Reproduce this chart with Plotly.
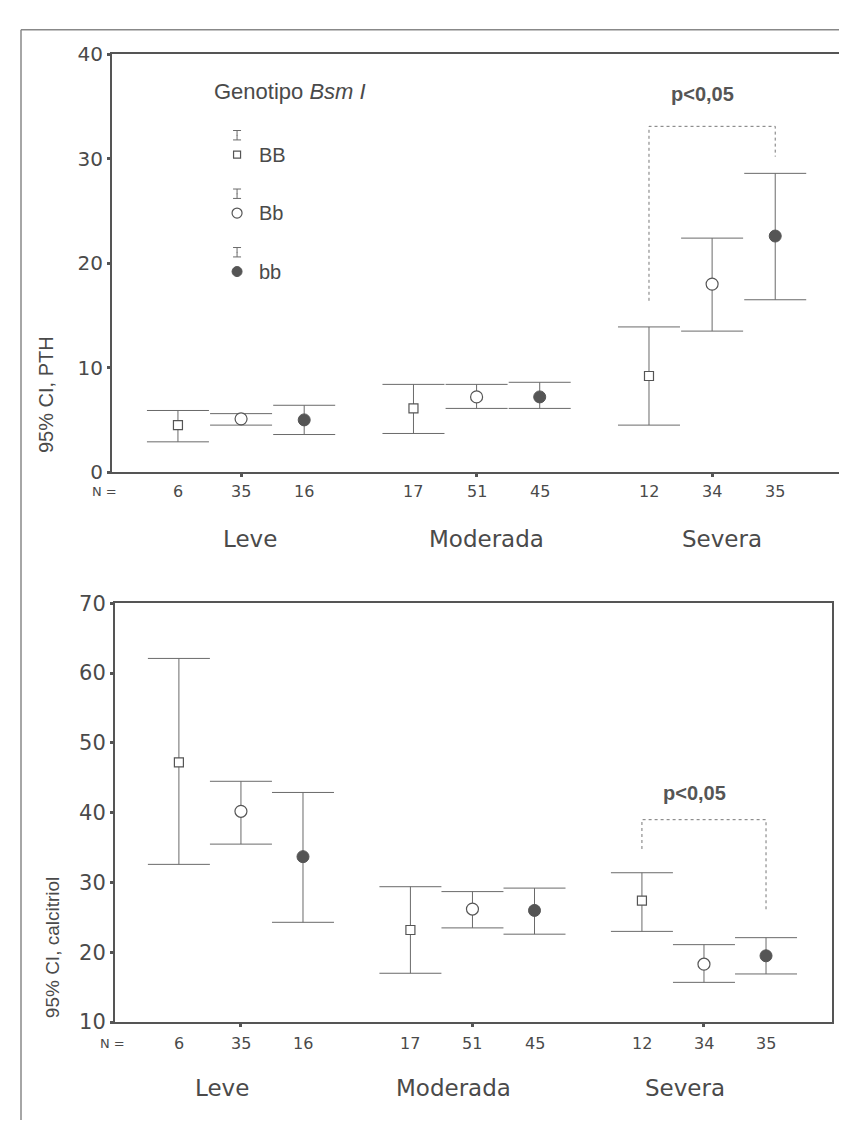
import plotly.graph_objects as go

# ---------------- data ----------------
groups = ["Leve", "Moderada", "Severa"]
genotypes = ["BB", "Bb", "bb"]
n_values = [6, 35, 16, 17, 51, 45, 12, 34, 35]

# PTH (top panel): mean, lower and upper 95% CI per genotype, per severity group
pth_mean = {"BB": [4.5, 6.1, 9.2], "Bb": [5.1, 7.2, 18.0], "bb": [5.0, 7.2, 22.6]}
pth_low = {"BB": [2.9, 3.7, 4.5], "Bb": [4.5, 6.1, 13.5], "bb": [3.6, 6.1, 16.5]}
pth_high = {"BB": [5.9, 8.4, 13.9], "Bb": [5.6, 8.4, 22.4], "bb": [6.4, 8.6, 28.6]}

# calcitriol (bottom panel)
cal_mean = {"BB": [47.2, 23.2, 27.4], "Bb": [40.2, 26.2, 18.3], "bb": [33.7, 26.0, 19.5]}
cal_low = {"BB": [32.6, 17.0, 23.0], "Bb": [35.5, 23.5, 15.7], "bb": [24.3, 22.6, 16.9]}
cal_high = {"BB": [62.1, 29.4, 31.4], "Bb": [44.5, 28.7, 21.1], "bb": [42.9, 29.2, 22.1]}

# significance brackets (leg BB, top, leg bb) in data units
pth_bracket = [16.4, 33.1, 30.2]
cal_bracket = [34.8, 39.0, 26.1]
p_text = "p<0,05"

pth_ticks = [0, 10, 20, 30, 40]
cal_ticks = [10, 20, 30, 40, 50, 60, 70]

# ---------------- styling ----------------
W, H = 847, 1124
DARK = "#4a4a4a"
LINE = "#555555"
ERR = "#6a6a6a"
offset = 0.268
group_x = [1, 2, 3]
geno_off = {"BB": -offset, "Bb": 0.0, "bb": offset}
marker_style = {
    "BB": dict(symbol="square", size=9, color="white", line=dict(color=LINE, width=1.2)),
    "Bb": dict(symbol="circle", size=12, color="white", line=dict(color=LINE, width=1.2)),
    "bb": dict(symbol="circle", size=12, color="#555555", line=dict(color="#555555", width=1)),
}


def py(p):
    return 1 - p / H


fig = go.Figure()


def add_panel(xa, ya, mean, low, high, bracket):
    for g in genotypes:
        xs = [gx + geno_off[g] for gx in group_x]
        up = [h - m for h, m in zip(high[g], mean[g])]
        dn = [m - l for m, l in zip(mean[g], low[g])]
        fig.add_trace(go.Scatter(
            x=xs, y=mean[g], mode="markers", xaxis=xa, yaxis=ya,
            marker=marker_style[g], showlegend=False,
            error_y=dict(type="data", symmetric=False, array=up, arrayminus=dn,
                         color=ERR, thickness=1, width=31),
        ))
    xl = group_x[2] + geno_off["BB"]
    xr = group_x[2] + geno_off["bb"]
    fig.add_trace(go.Scatter(
        x=[xl, xl, xr, xr], y=[bracket[0], bracket[1], bracket[1], bracket[2]],
        mode="lines", xaxis=xa, yaxis=ya, showlegend=False,
        line=dict(color="#777777", width=1, dash="dot"),
    ))


add_panel("x", "y", pth_mean, pth_low, pth_high, pth_bracket)
add_panel("x2", "y2", cal_mean, cal_low, cal_high, cal_bracket)

# legend drawn inside the top panel
leg_x = 0.983
leg_y = [30.4, 24.8, 19.2]
for g, ly in zip(genotypes, leg_y):
    fig.add_trace(go.Scatter(
        x=[leg_x], y=[ly + 1.85], mode="markers", xaxis="x", yaxis="y", showlegend=False,
        marker=dict(size=1, color=ERR),
        error_y=dict(type="constant", value=0.45, color=ERR, thickness=1, width=4),
    ))
    ms = dict(marker_style[g])
    ms["size"] = ms["size"] - 2
    fig.add_trace(go.Scatter(
        x=[leg_x], y=[ly], mode="markers", xaxis="x", yaxis="y", showlegend=False,
        marker=ms,
    ))

ann = []
for g, ly in zip(genotypes, leg_y):
    ann.append(dict(x=leg_x + 0.085, y=ly, xref="x", yref="y", text=g, showarrow=False,
                    xanchor="left", yanchor="middle",
                    font=dict(family="Liberation Sans", size=20, color=DARK)))
ann.append(dict(x=0.875, y=36.4, xref="x", yref="y", text="Genotipo <i>Bsm I</i>",
                showarrow=False, xanchor="left", yanchor="middle",
                font=dict(family="Liberation Sans", size=22, color=DARK)))
ann.append(dict(x=2.96, y=36.2, xref="x", yref="y", text="<b>" + p_text + "</b>",
                showarrow=False, xanchor="center", yanchor="middle",
                font=dict(family="Liberation Sans", size=20, color="#555555")))
ann.append(dict(x=2.96, y=42.8, xref="x2", yref="y2", text="<b>" + p_text + "</b>",
                showarrow=False, xanchor="center", yanchor="middle",
                font=dict(family="Liberation Sans", size=20, color="#555555")))

# N rows and group labels
pos9 = [gx + geno_off[g] for gx in group_x for g in genotypes]
for xa, ny, cy, nx_px, lab_shift in [("x", py(482), py(530), 96, 0.04),
                                     ("x2", py(1046), py(1091), 104, -0.08)]:
    for xv, n in zip(pos9, n_values):
        ann.append(dict(x=xv, y=ny, xref=xa, yref="paper", text=str(n), showarrow=False,
                        xanchor="center", yanchor="middle",
                        font=dict(family="DejaVu Sans", size=16, color=DARK)))
    ann.append(dict(x=nx_px / W, y=ny, xref="paper", yref="paper", text="N =", showarrow=False,
                    xanchor="center", yanchor="middle",
                    font=dict(family="DejaVu Sans", size=13, color=DARK)))
    for gx, gname in zip(group_x, groups):
        ann.append(dict(x=gx + lab_shift, y=cy, xref=xa, yref="paper", text=gname, showarrow=False,
                        xanchor="center", yanchor="middle",
                        font=dict(family="DejaVu Sans", size=23, color=DARK)))

# y-axis titles
ann.append(dict(x=38 / W, y=py(445), xref="paper", yref="paper", text="95% CI, PTH",
                textangle=-90, showarrow=False, xanchor="center", yanchor="bottom",
                font=dict(family="Liberation Sans", size=20, color=DARK)))
ann.append(dict(x=44 / W, y=py(1022), xref="paper", yref="paper", text="95% CI, calcitriol",
                textangle=-90, showarrow=False, xanchor="center", yanchor="bottom",
                font=dict(family="Liberation Sans", size=19, color=DARK)))

axis_common = dict(showline=True, mirror=True, linecolor=LINE, linewidth=2,
                   showgrid=False, zeroline=False, ticks="outside", ticklen=3,
                   tickwidth=3, tickcolor=LINE)

fig.update_layout(
    width=W, height=H, margin=dict(l=0, r=0, t=0, b=0),
    paper_bgcolor="white", plot_bgcolor="white", showlegend=False,
    xaxis=dict(domain=[104 / W, 836 / W], range=[0.452, 3.56], tickvals=group_x,
               showticklabels=False, anchor="y", **axis_common),
    yaxis=dict(domain=[py(462), py(35)], range=[0, 40], tickvals=pth_ticks,
               tickfont=dict(family="DejaVu Sans", size=20, color=DARK), anchor="x",
               **axis_common),
    xaxis2=dict(domain=[107 / W, 824 / W], range=[0.456, 3.553], tickvals=group_x,
                showticklabels=False, anchor="y2", **axis_common),
    yaxis2=dict(domain=[py(1024), py(596)], range=[10, 70], tickvals=cal_ticks,
                tickfont=dict(family="DejaVu Sans", size=21, color=DARK), anchor="x2",
                **axis_common),
    annotations=ann,
    shapes=[
        dict(type="line", xref="paper", yref="paper", x0=13 / W, x1=1, y0=py(10), y1=py(10),
             line=dict(color="#888888", width=1.5)),
        dict(type="line", xref="paper", yref="paper", x0=13 / W, x1=13 / W, y0=py(10), y1=0,
             line=dict(color="#888888", width=1.5)),
    ],
)

fig.write_html("out.html")
